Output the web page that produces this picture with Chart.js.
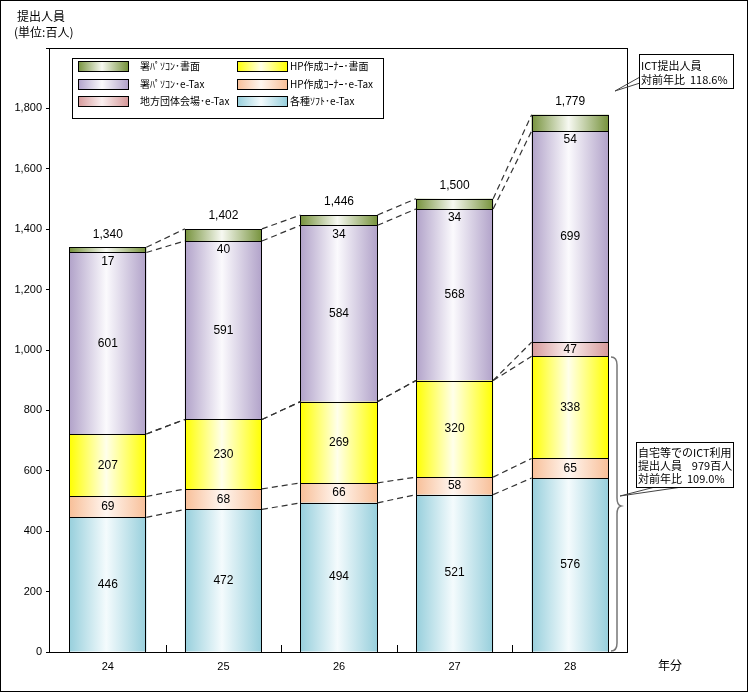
<!DOCTYPE html>
<html>
<head>
<meta charset="utf-8">
<script src="https://cdn.jsdelivr.net/npm/chart.js@4"></script>
<style>
  html, body { margin: 0; padding: 0; background: #fff; }
  canvas { display: block; }
</style>
</head>
<body>
<canvas id="taxChart" width="748" height="692"></canvas>
<script>
// ==========================================
// 1. DATA (単位: 百人)
// ==========================================
const years = ['24', '25', '26', '27', '28'];
const softETax = [446, 472, 494, 521, 576];        // 各種ソフト・e-Tax
const hpETax = [69, 68, 66, 58, 65];               // HP作成コーナー・e-Tax
const hpPaper = [207, 230, 269, 320, 338];         // HP作成コーナー・書面
const localETax = [0, 0, 0, 0, 47];                // 地方団体会場・e-Tax
const officePcETax = [601, 591, 584, 568, 699];    // 署パソコン・e-Tax
const officePcPaper = [17, 40, 34, 34, 54];        // 署パソコン・書面
const totals = [1340, 1402, 1446, 1500, 1779];
const yMax = 2000;
const yStep = 200;

const JP = "'Noto Sans CJK JP', sans-serif";
const NUM = "'Liberation Sans', Arial, sans-serif";
const BAR_FRACTION = 0.667;

// edge colour / centre colour of each series gradient
const series = [
    { label: '各種ｿﾌﾄ･e-Tax', data: softETax, edge: '#97cfdc', mid: '#f4fbfd' },
    { label: 'HP作成ｺｰﾅｰ･e-Tax', data: hpETax, edge: '#f8bf98', mid: '#fff6f0' },
    { label: 'HP作成ｺｰﾅｰ･書面', data: hpPaper, edge: '#ffff00', mid: '#ffffea' },
    { label: '地方団体会場･e-Tax', data: localETax, edge: '#d6999a', mid: '#fbf0f0' },
    { label: '署ﾊﾟｿｺﾝ･e-Tax', data: officePcETax, edge: '#b1a2c9', mid: '#fbfafd' },
    { label: '署ﾊﾟｿｺﾝ･書面', data: officePcPaper, edge: '#76923c', mid: '#f7f9f2' }
];

const makeGradient = (ctx, left, width, edge, mid) => {
    const g = ctx.createLinearGradient(left, 0, left + width, 0);
    g.addColorStop(0, edge);
    g.addColorStop(0.48, mid);
    g.addColorStop(1, edge);
    return g;
};

const barFill = (s) => (context) => {
    const chart = context.chart;
    if (!chart.chartArea) return s.edge;
    const xs = chart.scales.x;
    const w = xs.width / years.length * BAR_FRACTION;
    const cx = xs.getPixelForValue(context.dataIndex);
    return makeGradient(chart.ctx, cx - w / 2, w, s.edge, s.mid);
};

// ==========================================
// 2. DECORATION PLUGIN
// ==========================================
const decorPlugin = {
    id: 'decor',
    beforeDraw(chart) {
        const { ctx } = chart;
        ctx.save();
        ctx.fillStyle = '#fff';
        ctx.fillRect(0, 0, chart.width, chart.height);
        ctx.restore();
    },
    afterDatasetsDraw(chart) {
        const { ctx, chartArea: a } = chart;
        const xs = chart.scales.x;
        ctx.save();

        // crisp segment outlines
        ctx.strokeStyle = '#000';
        ctx.lineWidth = 1;
        series.forEach((s, d) => {
            const meta = chart.getDatasetMeta(d);
            s.data.forEach((v, i) => {
                if (!v) return;
                const el = meta.data[i];
                const l = Math.round(el.x - el.width / 2) + 0.5;
                const r = Math.round(el.x + el.width / 2) - 0.5;
                const t = Math.round(el.y) + 0.5;
                const b = Math.round(el.base) + 0.5;
                ctx.strokeRect(l, t, r - l, b - t);
            });
        });

        // dashed connectors between bars
        ctx.strokeStyle = '#333';
        ctx.lineWidth = 1.2;
        ctx.setLineDash([6, 4]);
        series.forEach((s, d) => {
            const meta = chart.getDatasetMeta(d);
            for (let i = 0; i < years.length - 1; i++) {
                const e1 = meta.data[i], e2 = meta.data[i + 1];
                ctx.beginPath();
                ctx.moveTo(e1.x + e1.width / 2, e1.y);
                ctx.lineTo(e2.x - e2.width / 2, e2.y);
                ctx.stroke();
            }
        });
        ctx.setLineDash([]);

        // plot frame
        ctx.strokeStyle = '#000';
        ctx.lineWidth = 1;
        ctx.strokeRect(Math.round(a.left) - 0.5, Math.round(a.top) + 0.5, Math.round(a.right - a.left), Math.round(a.bottom - a.top));

        // x ticks between categories (inward)
        for (let i = 0; i < years.length - 1; i++) {
            const x = Math.round((xs.getPixelForValue(i) + xs.getPixelForValue(i + 1)) / 2) + 0.5;
            ctx.beginPath();
            ctx.moveTo(x, a.bottom);
            ctx.lineTo(x, a.bottom - 7);
            ctx.stroke();
        }

        // value labels
        ctx.fillStyle = '#000';
        ctx.font = `12px ${NUM}`;
        ctx.textAlign = 'center';
        ctx.textBaseline = 'middle';
        series.forEach((s, d) => {
            const meta = chart.getDatasetMeta(d);
            s.data.forEach((v, i) => {
                if (!v) return;
                const el = meta.data[i];
                const y = d === series.length - 1 ? el.base + 9 : (el.y + el.base) / 2;
                ctx.fillText(String(v), el.x, y);
            });
        });
        const topMeta = chart.getDatasetMeta(series.length - 1);
        totals.forEach((t, i) => {
            const el = topMeta.data[i];
            ctx.fillText(t.toLocaleString('en-US'), el.x, el.y - 13);
        });

        ctx.restore();
    },
    afterDraw(chart) {
        const { ctx } = chart;
        ctx.save();
        ctx.fillStyle = '#000';
        ctx.strokeStyle = '#000';
        ctx.lineWidth = 1;

        // titles
        ctx.font = `12px ${JP}`;
        ctx.textAlign = 'left';
        ctx.textBaseline = 'middle';
        ctx.fillText('提出人員', 17, 16);
        ctx.fillText('(単位:百人)', 14, 32);
        ctx.fillText('年分', 658, 665);

        // legend box
        ctx.fillStyle = '#fff';
        ctx.fillRect(72, 58, 311, 60);
        ctx.strokeRect(72.5, 58.5, 311, 60);
        const legendOrder = [5, 4, 3, 2, 1, 0];
        const rowsY = [66, 84, 101];
        ctx.font = `10px ${JP}`;
        legendOrder.forEach((d, k) => {
            const col = Math.floor(k / 3), row = k % 3;
            const sx = col === 0 ? 78 : 237;
            const sy = rowsY[row] - 5;
            const s = series[d];
            ctx.fillStyle = makeGradient(ctx, sx, 50, s.edge, s.mid);
            ctx.fillRect(sx, sy, 50, 10);
            ctx.strokeRect(sx + 0.5, sy + 0.5, 50, 10);
            ctx.fillStyle = '#000';
            ctx.fillText(s.label, col === 0 ? 140 : 290, rowsY[row]);
        });

        // callout 1
        ctx.strokeStyle = '#444';
        ctx.beginPath();
        ctx.moveTo(640, 77);
        ctx.lineTo(615, 91);
        ctx.lineTo(640, 83);
        ctx.stroke();
        ctx.fillStyle = '#fff';
        ctx.fillRect(639, 54, 94, 34);
        ctx.strokeStyle = '#000';
        ctx.strokeRect(639.5, 54.5, 94, 34);
        ctx.fillStyle = '#000';
        ctx.font = `11px ${JP}`;
        ctx.fillText('ICT提出人員', 641, 66);
        ctx.fillText('対前年比  118.6%', 641, 80);

        // brace
        ctx.strokeStyle = '#777';
        ctx.lineWidth = 1.5;
        ctx.beginPath();
        ctx.moveTo(611, 357);
        ctx.quadraticCurveTo(617, 357, 617, 365);
        ctx.lineTo(617, 498);
        ctx.quadraticCurveTo(617, 505, 621, 506);
        ctx.quadraticCurveTo(617, 507, 617, 514);
        ctx.lineTo(617, 643);
        ctx.quadraticCurveTo(617, 651, 611, 651);
        ctx.stroke();

        // callout 2
        ctx.lineWidth = 1;
        ctx.strokeStyle = '#444';
        ctx.beginPath();
        ctx.moveTo(655, 487);
        ctx.lineTo(620, 496);
        ctx.lineTo(682, 487);
        ctx.stroke();
        ctx.fillStyle = '#fff';
        ctx.fillRect(636, 442, 97, 45);
        ctx.strokeStyle = '#000';
        ctx.strokeRect(636.5, 442.5, 97, 45);
        ctx.fillStyle = '#000';
        ctx.fillText('自宅等でのICT利用', 638, 453);
        ctx.fillText('提出人員    979百人', 638, 466);
        ctx.fillText('対前年比  109.0%', 638, 479);

        // outer border
        ctx.strokeRect(0.5, 0.5, chart.width - 1, chart.height - 1);
        ctx.restore();
    }
};

// ==========================================
// 3. CHART
// ==========================================
new Chart(document.getElementById('taxChart'), {
    type: 'bar',
    data: {
        labels: years,
        datasets: series.map(s => ({
            label: s.label,
            data: s.data,
            backgroundColor: barFill(s),
            borderWidth: 0,
            categoryPercentage: 1,
            barPercentage: BAR_FRACTION
        }))
    },
    options: {
        responsive: false,
        devicePixelRatio: 1,
        animation: false,
        layout: { padding: { top: 48, right: 120, left: 0, bottom: 0 } },
        plugins: { legend: { display: false }, tooltip: { enabled: false } },
        scales: {
            x: {
                stacked: true,
                grid: { display: false },
                border: { display: false },
                ticks: { color: '#000', font: { size: 11, family: NUM }, padding: 0 },
                afterFit: (scale) => { scale.height = 40; }
            },
            y: {
                stacked: true,
                min: 0,
                max: yMax,
                grid: { drawOnChartArea: false, tickLength: 4, color: '#000' },
                border: { display: false },
                ticks: {
                    stepSize: yStep,
                    color: '#000',
                    padding: 4,
                    font: { size: 11, family: NUM },
                    callback: (v) => v >= yMax ? '' : v.toLocaleString('en-US')
                },
                afterFit: (scale) => { scale.width = 50; }
            }
        }
    },
    plugins: [decorPlugin]
});
</script>
</body>
</html>
